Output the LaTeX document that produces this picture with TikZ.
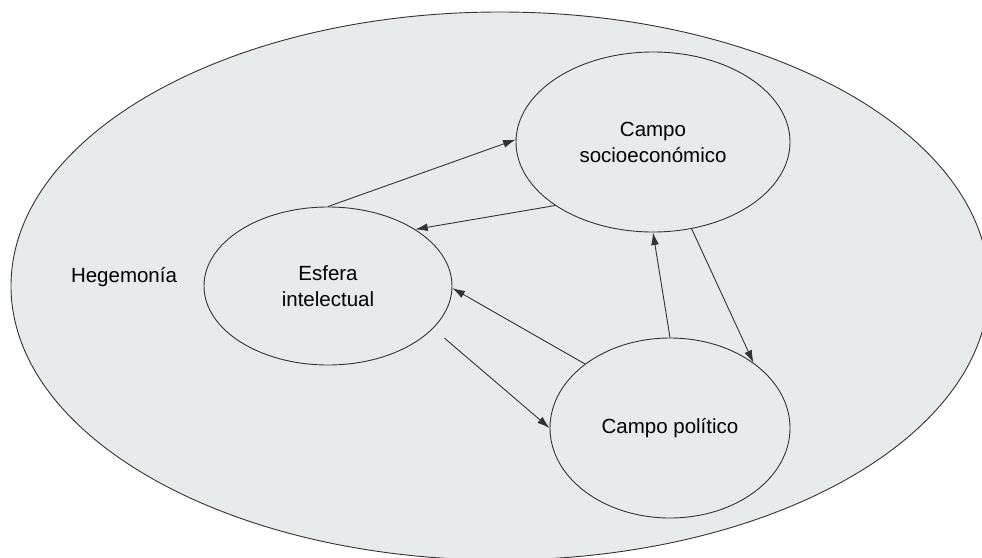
\documentclass[tikz,border=0pt]{standalone}
\usepackage{fontspec}
\setmainfont{Liberation Sans}
\usetikzlibrary{shapes.geometric,arrows.meta}
\definecolor{fondo}{HTML}{E8EBEC}
\definecolor{trazo}{HTML}{333333}
\tikzset{
  campo/.style={draw=trazo, line width=0.9pt, ellipse, inner sep=0pt, align=center, font=\fontsize{20.5}{26}\selectfont},
  flecha/.style={draw=trazo, line width=0.9pt, -{Latex[length=12.5pt,width=8pt]}}
}
\begin{document}
\begin{tikzpicture}[x=1pt,y=-1pt]
\useasboundingbox (0,0) rectangle (982,557);
\filldraw[fill=fondo, draw=trazo, line width=0.9pt] (500,286) ellipse [x radius=489, y radius=274];
\node[campo, minimum width=274pt, minimum height=180pt] (socio) at (653,142) {Campo\\socioeconómico};
\node[campo, minimum width=248pt, minimum height=158pt] (esfera) at (328,286) {Esfera\\intelectual};
\node[campo, minimum width=240pt, minimum height=180pt] (politico) at (670,428) {Campo político};
\node[font=\fontsize{20.5}{26}\selectfont] (hegemonia) at (124,277) {Hegemonía};
\draw[flecha] (esfera.90) -- (socio.179);
\draw[flecha] (socio.213) -- (esfera.33);
\draw[flecha] (politico.143) -- (esfera.-1);
\draw[flecha, shorten <=15pt] (esfera.-22) -- (politico.180);
\draw[flecha] (politico.90) -- (socio.270);
\draw[flecha] (socio.-66) -- (politico.38);
\end{tikzpicture}
\end{document}
